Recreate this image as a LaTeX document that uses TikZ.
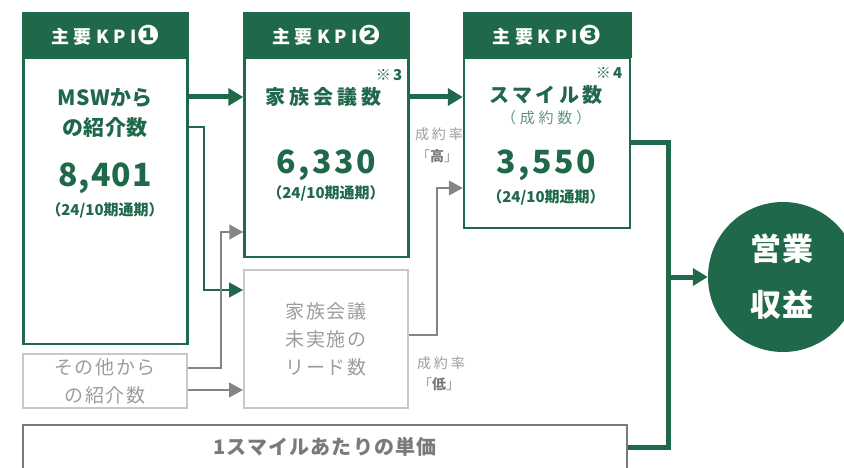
\documentclass[tikz,border=0pt]{standalone}
\usepackage{fontspec}
\setmainfont{Noto Sans CJK JP}
\newfontfamily\djv{DejaVu Sans}
\newcommand\circnum[1]{\raisebox{-1.2pt}{\djv\fontsize{27}{27}\selectfont #1}}
\usetikzlibrary{arrows.meta}
\definecolor{kgreen}{HTML}{1F684A}
\definecolor{lgray}{HTML}{C8C8C8}
\definecolor{tgray}{HTML}{9C9C9C}
\definecolor{agray}{HTML}{858585}
\definecolor{pgray}{HTML}{7A7A7A}
\tikzset{
  hdr/.style={fill=kgreen,draw=kgreen,line width=1pt,minimum width=166pt,minimum height=45pt,inner sep=0pt,text=white,font=\bfseries\fontsize{18}{18}\selectfont\addfontfeatures{LetterSpace=25}},
  kbox/.style={draw=kgreen,line width=2.5pt,fill=white,minimum width=164pt,inner sep=0pt},
  gbox/.style={draw=lgray,line width=2pt,minimum width=164pt,inner sep=0pt,text=tgray,align=center},
  ktxt/.style={text=kgreen,font=\bfseries\fontsize{21}{21}\selectfont\addfontfeatures{LetterSpace=3},inner sep=0pt},
  knum/.style={text=kgreen,font=\bfseries\fontsize{32}{32}\selectfont\addfontfeatures{LetterSpace=3},inner sep=0pt},
  kper/.style={text=kgreen,font=\bfseries\fontsize{15}{15}\selectfont,inner sep=0pt},
  note/.style={text=kgreen,font=\bfseries\fontsize{15}{15}\selectfont\addfontfeatures{LetterSpace=15},inner sep=0pt},
  rate/.style={text=tgray,font=\fontsize{14}{14}\selectfont\addfontfeatures{LetterSpace=20},inner sep=0pt},
  bigarrow/.style={draw=kgreen,line width=5pt,-{Triangle[length=15pt,width=17pt]}},
  biglink/.style={draw=kgreen,line width=5pt},
  thinarrow/.style={draw=kgreen,line width=1.2pt,-{Triangle[length=14pt,width=15pt]}},
  grayarrow/.style={draw=agray,line width=1.2pt,-{Triangle[length=14pt,width=15pt]}},
}
\begin{document}
\begin{tikzpicture}[x=1pt,y=-1pt]
\useasboundingbox (0,0) rectangle (844,468);
% coordinates for connector heights
\coordinate (y97) at (0,97);
\coordinate (y127) at (0,127);
\coordinate (y143) at (0,143);
\coordinate (y188) at (0,188);
\coordinate (y232) at (0,232);
\coordinate (y290) at (0,290);
\coordinate (y335) at (0,335);
\coordinate (y368) at (0,368);
\coordinate (y390) at (0,390);
\coordinate (y447) at (0,447);
\coordinate (k1) at (204,127);
\coordinate (k2) at (221,232);
\coordinate (k3) at (437,188);
\coordinate (j) at (668,277);

% boxes
\node[kbox,minimum height=286pt] (b1) at (105.5,201) {};
\node[hdr] (h1) at (105.5,35) {主要KPI\circnum{❶}};
\node[kbox,minimum height=199pt] (b2) at (326.5,157.5) {};
\node[hdr] (h2) at (326.5,35) {主要KPI\circnum{❷}};
\node[kbox,minimum height=170pt,minimum width=166pt] (b3) at (547,143) {};
\node[hdr,minimum width=168pt] (h3) at (547,35) {主要KPI\circnum{❸}};
\node[gbox,minimum height=138pt] (g) at (326,339) {};
\node[gbox,minimum height=54pt] (o) at (105,381) {};
\node[draw=pgray,line width=2.5pt,minimum width=604pt,minimum height=80pt,inner sep=0pt] (p) at (325,465) {};
\node[circle,fill=kgreen,minimum size=150pt,inner sep=0pt] (c) at (783,277) {};

% box 1 text
\node[ktxt] (t1a) at (105,98) {MSWから};
\node[ktxt] (t1b) at (105,128) {の紹介数};
\node[knum] (n1) at (105,178) {8,401};
\node[kper] (p1) at (105,210) {（24/10期通期）};
% box 2 text
\node[note] (s3) at (389,75) {※3};
\node[ktxt,font=\bfseries\fontsize{20}{20}\selectfont\addfontfeatures{LetterSpace=20}] (t2) at (323,97) {家族会議数};
\node[knum,font=\bfseries\fontsize{32}{32}\selectfont\addfontfeatures{LetterSpace=8}] (n2) at (326,165) {6,330};
\node[kper] (p2) at (326,193) {（24/10期通期）};
% box 3 text
\node[note] (s4) at (609,73) {※4};
\node[ktxt,font=\bfseries\fontsize{20}{20}\selectfont\addfontfeatures{LetterSpace=18}] (t3) at (546,95) {スマイル数};
\node[text=kgreen!70,font=\fontsize{15}{15}\selectfont\addfontfeatures{LetterSpace=25},inner sep=0pt] (t3b) at (546,118) {（成約数）};
\node[knum,font=\bfseries\fontsize{32}{32}\selectfont\addfontfeatures{LetterSpace=8}] (n3) at (546,165) {3,550};
\node[kper] (p3) at (546,197) {（24/10期通期）};
% gray box texts
\node[text=tgray,align=center,font=\fontsize{19}{28}\selectfont\addfontfeatures{LetterSpace=8},inner sep=0pt] (gt) at (326,339) {家族会議\\未実施の\\リード数};
\node[text=tgray,align=center,font=\fontsize{19}{28}\selectfont\addfontfeatures{LetterSpace=8},inner sep=0pt] (ot) at (105,381) {その他から\\の紹介数};
\node[text=pgray,font=\bfseries\fontsize{20}{20}\selectfont\addfontfeatures{LetterSpace=6},inner sep=0pt] (pt) at (325,447) {1スマイルあたりの単価};
% circle text
\node[text=white,align=center,font=\bfseries\fontsize{31}{56}\selectfont\addfontfeatures{LetterSpace=6},inner sep=0pt] (ct) at (782,277) {営業\\収益};
% rate labels
\node[rate] (r1) at (439,134) {成約率};
\node[rate] (r1b) at (437,156) {「{\bfseries\color{pgray}高}」};
\node[rate] (r2) at (441,363) {成約率};
\node[rate] (r2b) at (439,384) {「{\bfseries\color{pgray}低}」};

% connectors
\draw[bigarrow] (b1.east |- y97) -- (b2.west |- y97);
\draw[bigarrow] (b2.east |- y97) -- (b3.west |- y97);
\draw[biglink] (b3.east |- y143) -| (j) |- (p.east |- y447);
\draw[bigarrow] (j) -- (c);
\draw[thinarrow] (b1.east |- y127) -- (k1) |- (g.west |- y290);
\draw[grayarrow] (o.east |- y368) -| (k2) -- (b2.west |- y232);
\draw[grayarrow] (o.east |- y390) -- (g.west |- y390);
\draw[grayarrow] (g.east |- y335) -| (k3) -- (b3.west |- y188);
\end{tikzpicture}
\end{document}
